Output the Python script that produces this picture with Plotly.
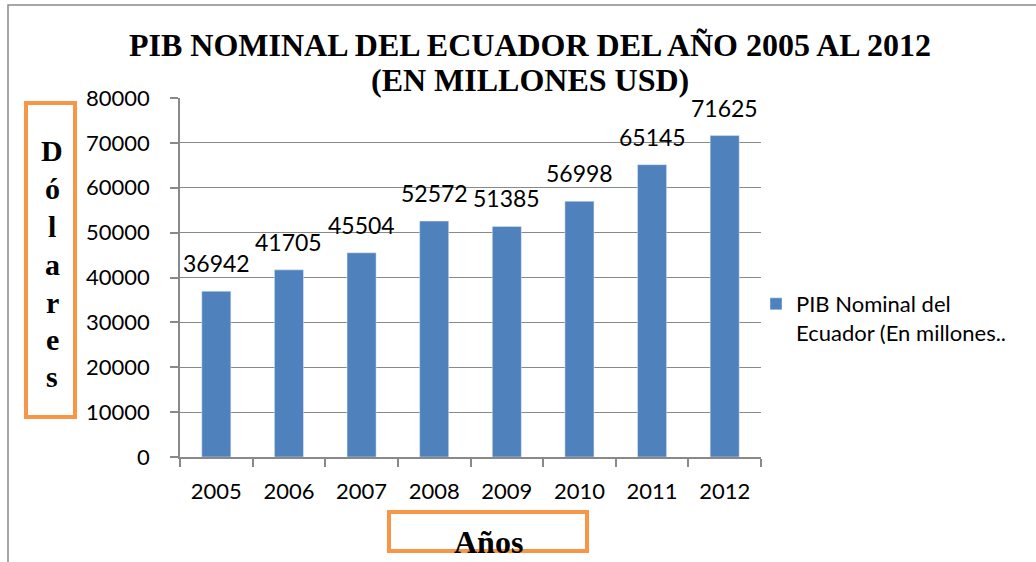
import plotly.graph_objects as go

years = ["2005", "2006", "2007", "2008", "2009", "2010", "2011", "2012"]
pib = [36942, 41705, 45504, 52572, 51385, 56998, 65145, 71625]
series_name = "PIB Nominal del<br>Ecuador (En millones.."
title_l1 = "PIB NOMINAL DEL ECUADOR DEL AÑO 2005 AL 2012"
title_l2 = "(EN MILLONES USD)"
ytitle_letters = ["D", "ó", "l", "a", "r", "e", "s"]
xtitle = "Años"

W, H = 1036, 562
L, R, T, B = 180, 761, 98, 457  # plot area in pixels


def px(x):
    return (x - L) / (R - L)


def py(y):
    return (B - y) / (B - T)


BLUE = "#4F81BD"
ORANGE = "#F79646"
GRAY = "#898989"
SANS = "Lato, Carlito, Calibri, sans-serif"
SERIF = "Liberation Serif, Times New Roman, serif"

fig = go.Figure()
fig.add_trace(go.Bar(x=years, y=pib, name=series_name, marker_color=BLUE,
                     showlegend=True))

annotations = []
for i, v in enumerate(pib):
    annotations.append(dict(x=i, y=v, xref="x", yref="y", text=str(v),
                            showarrow=False, yanchor="bottom", yshift=12,
                            font=dict(family=SANS, size=23, color="black")))

annotations.append(dict(x=px(530), y=py(45), xref="paper", yref="paper",
                        text="<b>" + title_l1 + "</b>", showarrow=False,
                        xanchor="center", yanchor="middle",
                        font=dict(family=SERIF, size=32, color="black")))
annotations.append(dict(x=px(530), y=py(80), xref="paper", yref="paper",
                        text="<b>" + title_l2 + "</b>", showarrow=False,
                        xanchor="center", yanchor="middle",
                        font=dict(family=SERIF, size=32, color="black")))

ycent = [150, 188, 226, 264, 302, 339, 376]
for ch, yc in zip(ytitle_letters, ycent):
    annotations.append(dict(x=px(52), y=py(yc), xref="paper", yref="paper",
                            text="<b>" + ch + "</b>", showarrow=False,
                            xanchor="center", yanchor="middle",
                            font=dict(family=SERIF, size=30, color="black")))

annotations.append(dict(x=px(488), y=py(542), xref="paper", yref="paper",
                        text="<b>" + xtitle + "</b>", showarrow=False,
                        xanchor="center", yanchor="middle",
                        font=dict(family=SERIF, size=32, color="black")))

shapes = [
    # outer frame
    dict(type="rect", xref="paper", yref="paper", x0=px(8), y0=py(700),
         x1=px(1200), y1=py(5), line=dict(color=GRAY, width=1.5), layer="below"),
    # y title box
    dict(type="rect", xref="paper", yref="paper", x0=px(26), x1=px(75),
         y0=py(417), y1=py(103), line=dict(color=ORANGE, width=4)),
    # x title box
    dict(type="rect", xref="paper", yref="paper", x0=px(389), x1=px(587),
         y0=py(551), y1=py(512), line=dict(color=ORANGE, width=4)),
]

fig.update_layout(
    width=W, height=H,
    margin=dict(l=L, r=W - R, t=T, b=H - B, pad=0),
    paper_bgcolor="white", plot_bgcolor="white",
    bargap=0.6,
    annotations=annotations,
    shapes=shapes,
    legend=dict(x=px(756), y=py(283), xanchor="left", yanchor="top",
                font=dict(family=SANS, size=22, color="black"),
                valign="top", bgcolor="rgba(0,0,0,0)"),
    xaxis=dict(type="category", range=[-0.5, 7.5], showgrid=False,
               showline=True, linecolor=GRAY, linewidth=1.5,
               ticks="outside", tickson="boundaries", ticklen=8,
               tickcolor=GRAY, tickwidth=1.5, ticklabelstandoff=14,
               tickfont=dict(family=SANS, size=22, color="black")),
    yaxis=dict(range=[0, 80000], dtick=10000, showgrid=True, gridcolor=GRAY,
               gridwidth=1.2, zeroline=False, showline=True, linecolor=GRAY,
               linewidth=1.5, ticks="outside", ticklen=8, tickcolor=GRAY,
               tickwidth=1.5, ticklabelstandoff=16, tickformat="d",
               tickfont=dict(family=SANS, size=22, color="black")),
)

fig.write_html("out.html")
